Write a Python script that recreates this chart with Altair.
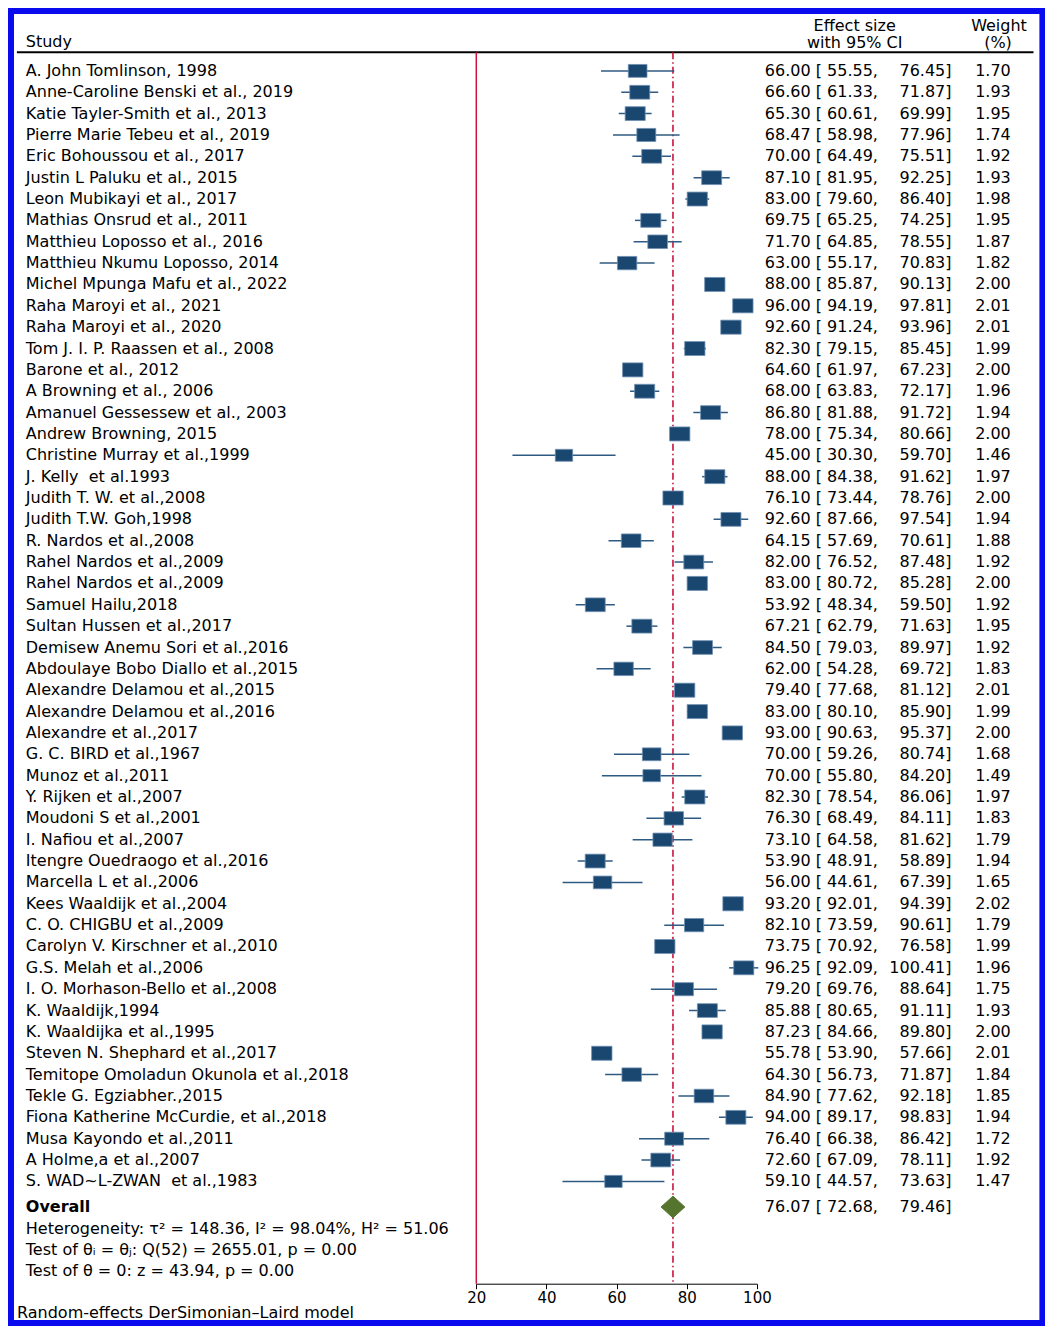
import altair as alt
import pandas as pd

# ---------------- data ----------------
studies = [
    "A. John Tomlinson, 1998", "Anne-Caroline Benski et al., 2019", "Katie Tayler-Smith et al., 2013",
    "Pierre Marie Tebeu et al., 2019", "Eric Bohoussou et al., 2017", "Justin L Paluku et al., 2015",
    "Leon Mubikayi et al., 2017", "Mathias Onsrud et al., 2011", "Matthieu Loposso et al., 2016",
    "Matthieu Nkumu Loposso, 2014", "Michel Mpunga Mafu et al., 2022", "Raha Maroyi et al., 2021",
    "Raha Maroyi et al., 2020", "Tom J. I. P. Raassen et al., 2008", "Barone et al., 2012",
    "A Browning et al., 2006", "Amanuel Gessessew et al., 2003", "Andrew Browning, 2015",
    "Christine Murray et al.,1999", "J. Kelly  et al.1993", "Judith T. W. et al.,2008",
    "Judith T.W. Goh,1998", "R. Nardos et al.,2008", "Rahel Nardos et al.,2009",
    "Rahel Nardos et al.,2009", "Samuel Hailu,2018", "Sultan Hussen et al.,2017",
    "Demisew Anemu Sori et al.,2016", "Abdoulaye Bobo Diallo et al.,2015", "Alexandre Delamou et al.,2015",
    "Alexandre Delamou et al.,2016", "Alexandre et al.,2017", "G. C. BIRD et al.,1967",
    "Munoz et al.,2011", "Y. Rijken et al.,2007", "Moudoni S et al.,2001",
    "I. Nafiou et al.,2007", "Itengre Ouedraogo et al.,2016", "Marcella L et al.,2006",
    "Kees Waaldijk et al.,2004", "C. O. CHIGBU et al.,2009", "Carolyn V. Kirschner et al.,2010",
    "G.S. Melah et al.,2006", "I. O. Morhason-Bello et al.,2008", "K. Waaldijk,1994",
    "K. Waaldijka et al.,1995", "Steven N. Shephard et al.,2017", "Temitope Omoladun Okunola et al.,2018",
    "Tekle G. Egziabher.,2015", "Fiona Katherine McCurdie, et al.,2018", "Musa Kayondo et al.,2011",
    "A Holme,a et al.,2007", "S. WAD~L-ZWAN  et al.,1983",
]
effect = [66.00, 66.60, 65.30, 68.47, 70.00, 87.10, 83.00, 69.75, 71.70, 63.00,
          88.00, 96.00, 92.60, 82.30, 64.60, 68.00, 86.80, 78.00, 45.00, 88.00,
          76.10, 92.60, 64.15, 82.00, 83.00, 53.92, 67.21, 84.50, 62.00, 79.40,
          83.00, 93.00, 70.00, 70.00, 82.30, 76.30, 73.10, 53.90, 56.00, 93.20,
          82.10, 73.75, 96.25, 79.20, 85.88, 87.23, 55.78, 64.30, 84.90, 94.00,
          76.40, 72.60, 59.10]
lower = [55.55, 61.33, 60.61, 58.98, 64.49, 81.95, 79.60, 65.25, 64.85, 55.17,
         85.87, 94.19, 91.24, 79.15, 61.97, 63.83, 81.88, 75.34, 30.30, 84.38,
         73.44, 87.66, 57.69, 76.52, 80.72, 48.34, 62.79, 79.03, 54.28, 77.68,
         80.10, 90.63, 59.26, 55.80, 78.54, 68.49, 64.58, 48.91, 44.61, 92.01,
         73.59, 70.92, 92.09, 69.76, 80.65, 84.66, 53.90, 56.73, 77.62, 89.17,
         66.38, 67.09, 44.57]
upper = [76.45, 71.87, 69.99, 77.96, 75.51, 92.25, 86.40, 74.25, 78.55, 70.83,
         90.13, 97.81, 93.96, 85.45, 67.23, 72.17, 91.72, 80.66, 59.70, 91.62,
         78.76, 97.54, 70.61, 87.48, 85.28, 59.50, 71.63, 89.97, 69.72, 81.12,
         85.90, 95.37, 80.74, 84.20, 86.06, 84.11, 81.62, 58.89, 67.39, 94.39,
         90.61, 76.58, 100.41, 88.64, 91.11, 89.80, 57.66, 71.87, 92.18, 98.83,
         86.42, 78.11, 73.63]
weight = [1.70, 1.93, 1.95, 1.74, 1.92, 1.93, 1.98, 1.95, 1.87, 1.82,
          2.00, 2.01, 2.01, 1.99, 2.00, 1.96, 1.94, 2.00, 1.46, 1.97,
          2.00, 1.94, 1.88, 1.92, 2.00, 1.92, 1.95, 1.92, 1.83, 2.01,
          1.99, 2.00, 1.68, 1.49, 1.97, 1.83, 1.79, 1.94, 1.65, 2.02,
          1.79, 1.99, 1.96, 1.75, 1.93, 2.00, 2.01, 1.84, 1.85, 1.94,
          1.72, 1.92, 1.47]

overall_effect, overall_lower, overall_upper = 76.07, 72.68, 79.46
null_value = 20
x_ticks = [20, 40, 60, 80, 100]
footer_lines = [
    "Heterogeneity: τ² = 148.36, I² = 98.04%, H² = 51.06",
    "Test of θᵢ = θⱼ: Q(52) = 2655.01, p = 0.00",
    "Test of θ = 0: z = 43.94, p = 0.00",
]
model_note = "Random-effects DerSimonian–Laird model"

# ---------------- layout / style ----------------
FONT = "DejaVu Sans"
FS = 16
SX = 0.988
SY = 1318 / 1340


def px(v):
    return round(v * SX, 1)


def py(v):
    return round(v * SY, 1)


W = 1037
TOTAL_H = 1318
H = py(1297)
NAVY = "#1a476f"
CI_COLOR = "#2f5a82"
RED = "#c8143c"
GREEN = "#55752f"
RECT = "M-1.45,-1L1.45,-1L1.45,1L-1.45,1Z"

n = len(studies)
df = pd.DataFrame({"study": studies, "es": effect, "lo": lower, "hi": upper, "w": weight})
df["row"] = list(range(n))
# keep repeated spaces visible in SVG
df["label"] = [s.replace("  ", " \u00a0") for s in studies]
df["left_txt"] = [f"{e:.2f} [ {l:.2f}," for e, l in zip(effect, lower)]
df["right_txt"] = [f"{h:.2f}]" for h in upper]
df["w_txt"] = [f"{w:.2f}" for w in weight]

row_px = (1193 - 64) / (n - 1)
ov_row = (n - 1) + (1219 - 1193) / row_px
half_h = 11 / row_px

yscale = alt.Scale(domain=[0, n - 1], range=[py(64), py(1193)], zero=False, nice=False)
xscale = alt.Scale(domain=[20, 100], range=[px(474), px(758)], zero=False, nice=False)
xaxis = alt.Axis(values=x_ticks, title=None, grid=False, domainColor="black", domainWidth=1,
                 tickColor="black", tickSize=5, tickWidth=1, labelFont=FONT, labelFontSize=15,
                 labelColor="black", labelPadding=2, labelFlush=False, format="d")
Y = alt.Y("row:Q", scale=yscale, axis=None)

one = pd.DataFrame({"k": [0]})

frame = alt.Chart(one).mark_rect(fillOpacity=0, stroke="#0a0aee", strokeWidth=6).encode(
    x=alt.value(3), x2=alt.value(px(1047)), y=alt.value(3), y2=alt.value(TOTAL_H - 3))

head_line = alt.Chart(one).mark_rule(color="black", strokeWidth=2).encode(
    x=alt.value(px(9)), x2=alt.value(px(1038)), y=alt.value(py(45)))

null_line = alt.Chart(pd.DataFrame({"v": [null_value]})).mark_rule(color=RED, strokeWidth=1.5).encode(
    x=alt.X("v:Q", scale=xscale, axis=xaxis), y=alt.value(py(45)), y2=alt.value(H))

ov_line = alt.Chart(pd.DataFrame({"v": [overall_effect]})).mark_rule(
    color=RED, strokeWidth=1.6, strokeDash=[7, 3, 1.5, 3]).encode(
    x=alt.X("v:Q", scale=xscale, axis=xaxis), y=alt.value(py(45)), y2=alt.value(H))

base = alt.Chart(df)
ci = base.mark_rule(color=CI_COLOR, strokeWidth=1.5).encode(
    x=alt.X("lo:Q", scale=xscale, axis=xaxis), x2="hi:Q", y=Y)

boxes = base.mark_point(shape=RECT, filled=True, fill=NAVY, stroke="#7090b4", strokeWidth=0.8,
                        opacity=1).encode(
    x=alt.X("es:Q", scale=xscale, axis=xaxis), y=Y,
    size=alt.Size("w:Q", scale=alt.Scale(domain=[0, 2.02], range=[0, 198]), legend=None))

ddf = pd.DataFrame({
    "x": [overall_lower, overall_effect, overall_upper],
    "y": [ov_row, ov_row - half_h, ov_row],
    "y2": [ov_row, ov_row + half_h, ov_row],
})
diamond = alt.Chart(ddf).mark_area(color=GREEN, opacity=1, stroke=GREEN, strokeWidth=1).encode(
    x=alt.X("x:Q", scale=xscale, axis=xaxis),
    y=alt.Y("y:Q", scale=yscale, axis=None), y2="y2:Q")

txt = dict(font=FONT, fontSize=FS, color="black", baseline="middle")
labels = base.mark_text(align="left", **txt).encode(x=alt.value(px(18)), y=Y, text="label:N")
etxt = base.mark_text(align="left", **txt).encode(x=alt.value(px(766)), y=Y, text="left_txt:N")
rtxt = base.mark_text(align="right", **txt).encode(x=alt.value(px(955)), y=Y, text="right_txt:N")
wtxt = base.mark_text(align="right", **txt).encode(x=alt.value(px(1015)), y=Y, text="w_txt:N")

ov_df = pd.DataFrame({
    "row": [ov_row],
    "name": ["Overall"],
    "l": [f"{overall_effect:.2f} [ {overall_lower:.2f},"],
    "r": [f"{overall_upper:.2f}]"],
})
ov_name = alt.Chart(ov_df).mark_text(align="left", fontWeight="bold", **txt).encode(
    x=alt.value(px(18)), y=Y, text="name:N")
ov_l = alt.Chart(ov_df).mark_text(align="left", **txt).encode(x=alt.value(px(766)), y=Y, text="l:N")
ov_r = alt.Chart(ov_df).mark_text(align="right", **txt).encode(x=alt.value(px(955)), y=Y, text="r:N")


def const_text(s, x, y, align="left"):
    return alt.Chart(pd.DataFrame({"t": [s]})).mark_text(align=align, **txt).encode(
        x=alt.value(x), y=alt.value(y), text="t:N")


headers = [
    const_text("Study", px(18), py(35)),
    const_text("Effect size", px(857), py(18), "center"),
    const_text("with 95% CI", px(857), py(36), "center"),
    const_text("Weight", px(1003), py(18), "center"),
    const_text("(%)", px(1002), py(36), "center"),
]
footers = [const_text(s, px(18), py(yy)) for s, yy in zip(footer_lines, [1241, 1263, 1284])]
note = const_text(model_note, 9, TOTAL_H - 13)

chart = alt.layer(
    frame, head_line, null_line, ov_line, ci, boxes, diamond,
    labels, etxt, rtxt, wtxt, ov_name, ov_l, ov_r, *headers, *footers, note,
).properties(
    width=W, height=H,
    autosize=alt.AutoSizeParams(type="none"),
    padding={"left": 0, "right": 0, "top": 0, "bottom": TOTAL_H - H},
    background="white",
).configure_view(stroke=None)

chart.save("out.html", embed_options={"renderer": "svg", "actions": False})
